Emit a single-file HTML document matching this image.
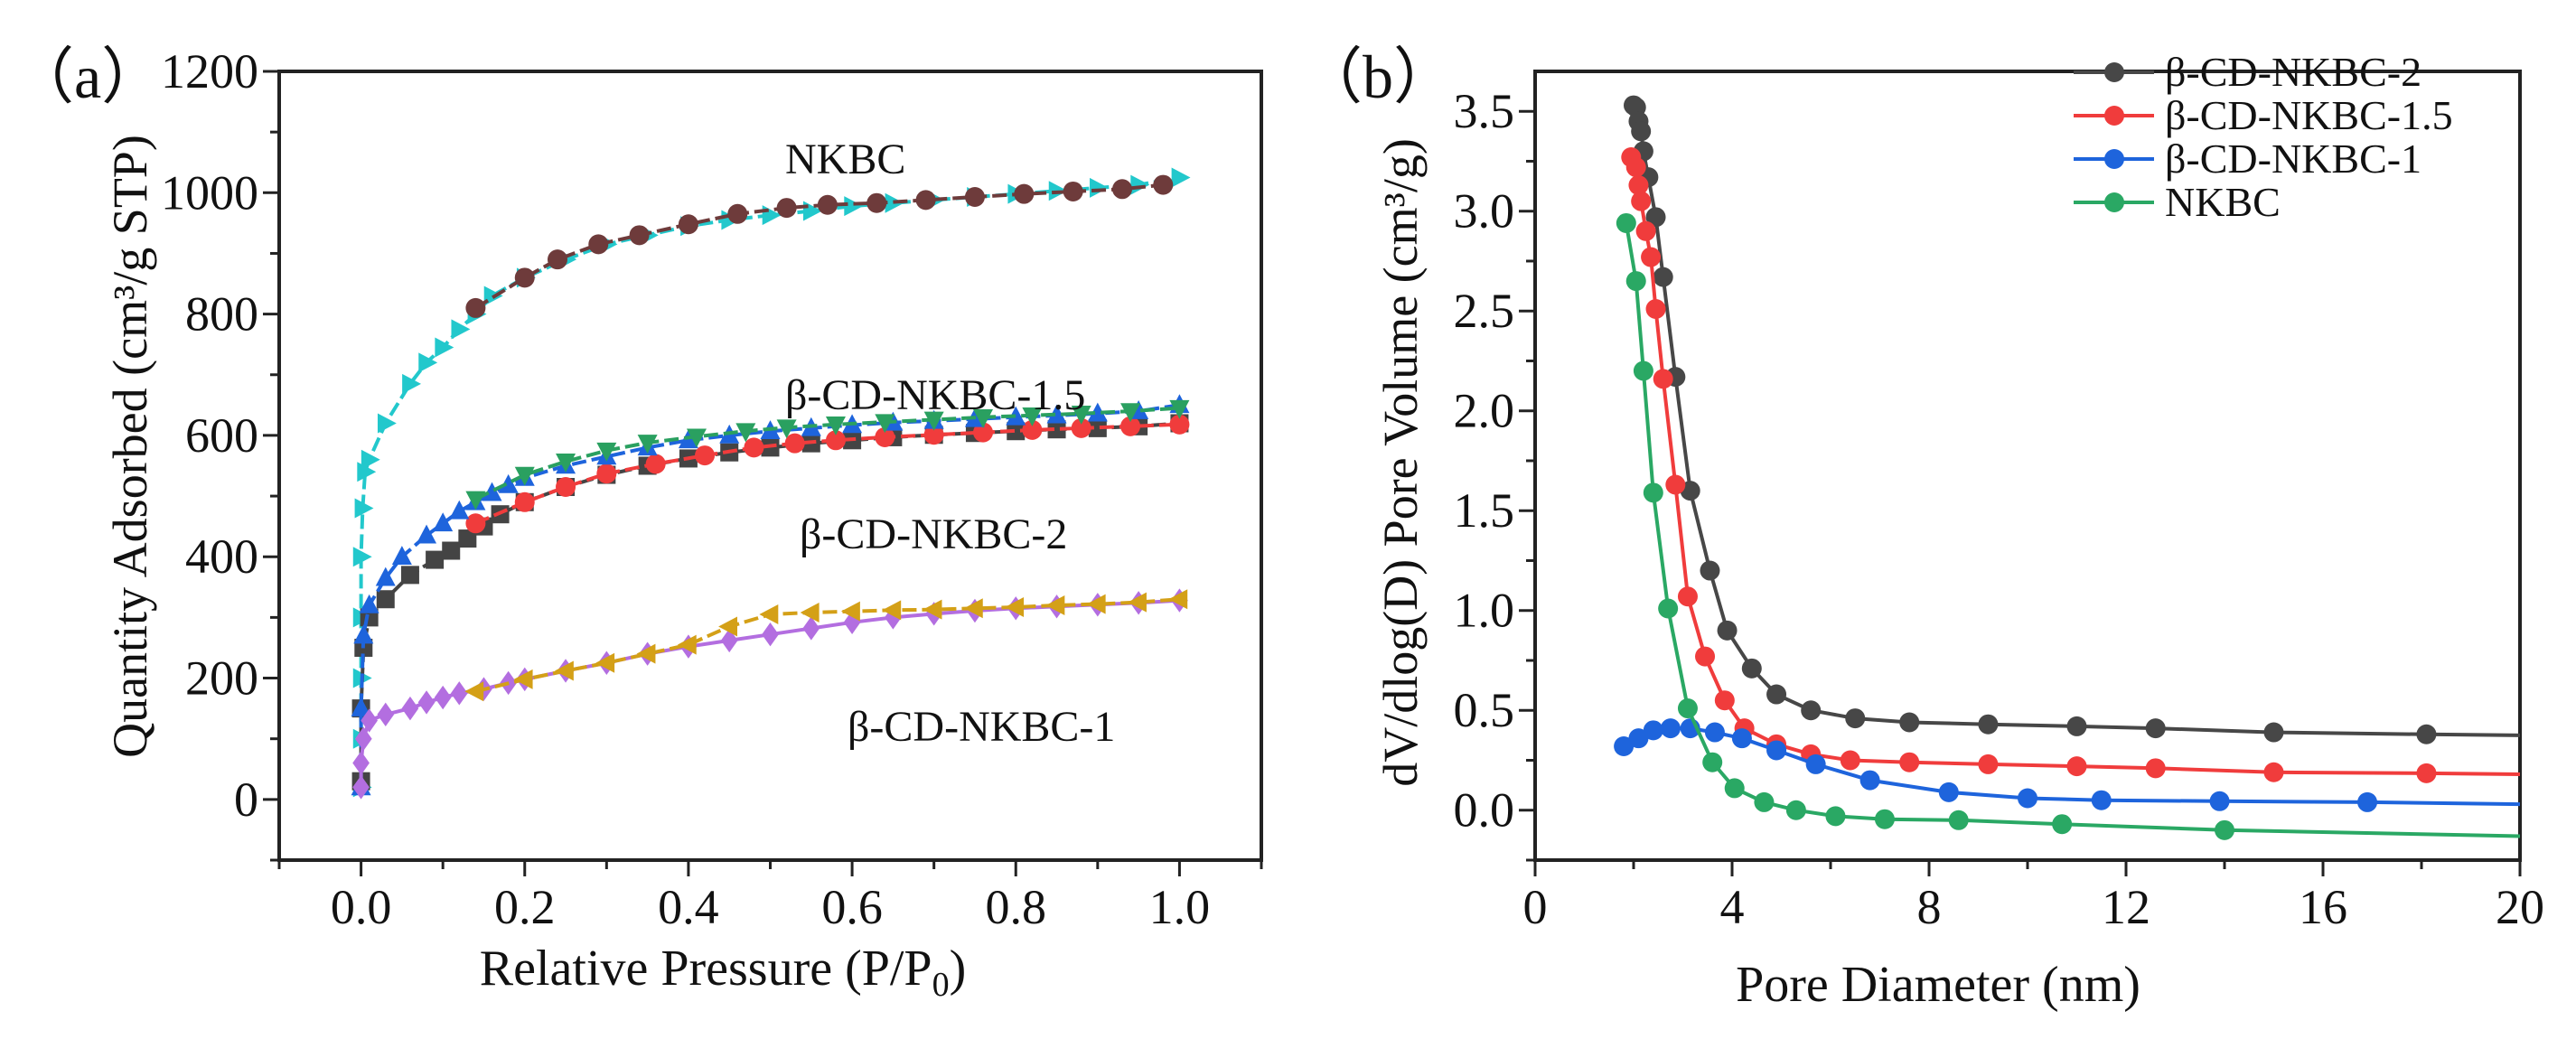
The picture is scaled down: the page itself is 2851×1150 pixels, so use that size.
<!DOCTYPE html>
<html><head><meta charset="utf-8"><style>
body{margin:0;background:#fff;}
svg{display:block;font-family:"Liberation Serif","Times New Roman",serif;}
text{font-family:"Liberation Serif","Times New Roman",serif;}
</style></head><body>
<svg id="fig" width="2851" height="1150" viewBox="0 0 2851 1150" xmlns="http://www.w3.org/2000/svg" font-family="Liberation Serif, serif">
<rect width="2851" height="1150" fill="#fff"/>
<g id="A"></g>
<g id="B"></g>
</svg>
<script>
// ---- Panel (a) data ----
const nkbcAdsX=[0,0,0,0,0,0.002,0.005,0.01,0.03,0.06,0.08,0.1,0.12,0.14,0.16,0.2,0.25,0.3,0.35,0.4,0.45,0.5,0.55,0.6,0.65,0.7,0.75,0.8,0.85,0.9,0.95,1.0];
const nkbcAdsY=[20,100,200,300,400,480,540,560,620,685,720,745,775,800,830,860,890,915,930,945,955,963,970,978,983,988,993,998,1003,1008,1013,1025];
const nkbcDesX=[0.14,0.2,0.24,0.29,0.34,0.4,0.46,0.52,0.57,0.63,0.69,0.75,0.81,0.87,0.93,0.98];
const nkbcDesY=[810,860,890,915,930,948,965,975,980,983,988,993,998,1002,1006,1013];
const cd2AdsX=[0,0,0.003,0.01,0.03,0.06,0.09,0.11,0.13,0.15,0.17,0.2,0.25,0.3,0.35,0.4,0.45,0.5,0.55,0.6,0.65,0.7,0.75,0.8,0.85,0.9,0.95,1.0];
const cd2AdsY=[30,150,250,300,330,370,395,410,430,450,470,490,515,535,550,562,572,580,587,592,597,601,604,607,610,612,615,620];
const cd2DesX=[0.14,0.2,0.25,0.3,0.36,0.42,0.48,0.53,0.58,0.64,0.7,0.76,0.82,0.88,0.94,1.0];
const cd2DesY=[455,490,515,537,553,567,580,587,592,597,601,605,609,612,615,618];
const cd15AdsX=[0,0,0.003,0.01,0.03,0.05,0.08,0.1,0.12,0.14,0.16,0.18,0.2,0.25,0.3,0.35,0.4,0.45,0.5,0.55,0.6,0.65,0.7,0.75,0.8,0.85,0.9,0.95,1.0];
const cd15AdsY=[20,150,270,320,365,400,435,455,475,490,505,518,530,550,565,580,592,600,607,612,617,621,624,627,630,633,636,640,650];
const cd15DesX=[0.14,0.2,0.25,0.3,0.35,0.41,0.47,0.52,0.58,0.64,0.7,0.76,0.82,0.88,0.94,1.0];
const cd15DesY=[495,535,557,575,588,598,607,613,618,622,626,630,633,636,640,645];
const cd1AdsX=[0,0,0.003,0.01,0.03,0.06,0.08,0.1,0.12,0.15,0.18,0.2,0.25,0.3,0.35,0.4,0.45,0.5,0.55,0.6,0.65,0.7,0.75,0.8,0.85,0.9,0.95,1.0];
const cd1AdsY=[20,60,100,130,140,150,160,168,175,182,192,198,212,225,240,252,262,272,282,292,300,306,311,315,318,321,324,328];
const cd1DesX=[0.14,0.2,0.25,0.3,0.35,0.4,0.45,0.5,0.55,0.6,0.65,0.7,0.75,0.8,0.85,0.9,0.95,1.0];
const cd1DesY=[178,198,212,225,240,255,285,305,308,310,312,313,315,317,320,322,325,330];
const aXTicks=[0,0.2,0.4,0.6,0.8,1.0];
const aXTickLabels=["0.0","0.2","0.4","0.6","0.8","1.0"];
const aYTicks=[0,200,400,600,800,1000,1200];
const aYTickLabels=["0","200","400","600","800","1000","1200"];
// ---- Panel (b) data ----
const bBlackX=[2.0,2.05,2.1,2.15,2.2,2.3,2.45,2.6,2.85,3.15,3.55,3.9,4.4,4.9,5.6,6.5,7.6,9.2,11.0,12.6,15.0,18.1,20];
const bBlackY=[3.53,3.52,3.45,3.40,3.3,3.17,2.97,2.67,2.17,1.6,1.2,0.9,0.71,0.58,0.5,0.46,0.44,0.43,0.42,0.41,0.39,0.38,0.375];
const bRedX=[1.95,2.05,2.1,2.15,2.25,2.35,2.45,2.6,2.85,3.1,3.45,3.85,4.25,4.9,5.6,6.4,7.6,9.2,11.0,12.6,15.0,18.1,20];
const bRedY=[3.27,3.22,3.13,3.05,2.9,2.77,2.51,2.16,1.63,1.07,0.77,0.55,0.41,0.33,0.28,0.25,0.24,0.23,0.22,0.21,0.19,0.185,0.18];
const bBlueX=[1.8,2.1,2.4,2.75,3.15,3.65,4.2,4.9,5.7,6.8,8.4,10.0,11.5,13.9,16.9,20];
const bBlueY=[0.32,0.36,0.4,0.41,0.41,0.39,0.36,0.3,0.23,0.15,0.09,0.06,0.05,0.045,0.04,0.03];
const bGreenX=[1.85,2.05,2.2,2.4,2.7,3.1,3.6,4.05,4.65,5.3,6.1,7.1,8.6,10.7,14.0,20];
const bGreenY=[2.94,2.65,2.2,1.59,1.01,0.51,0.24,0.11,0.04,0.0,-0.03,-0.045,-0.05,-0.07,-0.1,-0.13];
const bXTicks=[0,4,8,12,16,20];
const bXTickLabels=["0","4","8","12","16","20"];
const bYTicks=[0,0.5,1,1.5,2,2.5,3,3.5];
const bYTickLabels=["0.0","0.5","1.0","1.5","2.0","2.5","3.0","3.5"];

const NS="http://www.w3.org/2000/svg";
const FONT='"Liberation Serif","Times New Roman",serif';
function mk(parent,tag,attrs,text){const e=document.createElementNS(NS,tag);for(const k in attrs)e.setAttribute(k,attrs[k]);if(text!==undefined)e.textContent=text;parent.appendChild(e);return e;}

const ax=v=>309+(v+0.1)/1.2*(1396-309);
const ay=v=>952-(v+100)/1300*(952-79);
const bx=v=>1699+v/20*(2789-1699);
const by=v=>952-(v+0.25)/3.95*(952-79);

function marker(g,shape,x,y,r,color){
  let e;
  if(shape==='circle'){e=mk(g,'circle',{cx:x,cy:y,r:r,fill:color});}
  else if(shape==='square'){e=mk(g,'rect',{x:x-r,y:y-r,width:2*r,height:2*r,fill:color});}
  else{
    let p;
    if(shape==='up')p=[[x,y-r*1.1],[x+r,y+r*0.8],[x-r,y+r*0.8]];
    else if(shape==='down')p=[[x,y+r*1.1],[x+r,y-r*0.8],[x-r,y-r*0.8]];
    else if(shape==='right')p=[[x+r*1.1,y],[x-r*0.8,y-r],[x-r*0.8,y+r]];
    else if(shape==='left')p=[[x-r*1.1,y],[x+r*0.8,y-r],[x+r*0.8,y+r]];
    else p=[[x,y-r*1.2],[x+r*0.85,y],[x,y+r*1.2],[x-r*0.85,y]];
    e=mk(g,'polygon',{points:p.map(q=>q.join(',')).join(' '),fill:color});
  }
  
  
}
function series(parent,name,xs,ys,fx,fy,color,shape,r,dash,skipLastMarker){
  const g=mk(parent,'g',{});
  
  
  const d=xs.map((v,i)=>(i?'L':'M')+fx(v).toFixed(1)+','+fy(ys[i]).toFixed(1)).join(' ');
  const pa={d:d,fill:'none',stroke:color,'stroke-width':4,'stroke-linejoin':'round'};
  if(dash)pa['stroke-dasharray']=dash;
  const l=mk(g,'path',pa);
  
  
  const n=skipLastMarker?xs.length-1:xs.length;
  for(let i=0;i<n;i++)marker(g,shape,fx(xs[i]),fy(ys[i]),r,color);
}
function text(parent,name,x,y,str,size,anchor,extra){
  const t=mk(parent,'text',Object.assign({x:x,y:y,'font-size':size,'text-anchor':anchor||'start',fill:'#111','font-family':FONT},extra||{}),str);
  
  
  return t;
}

// ---------- Panel A ----------
const A=document.getElementById('A');
const fa=mk(A,'rect',{x:309,y:79,width:1087,height:873,fill:'none',stroke:'#222','stroke-width':4});

for(let v=-0.1;v<=1.11;v+=0.1){const big=Math.abs(Math.round(v*10)%2)===0;const t=mk(A,'line',{x1:ax(v),x2:ax(v),y1:952,y2:952+(big?18:10),stroke:'#222','stroke-width':3});}
for(let v=-100;v<=1200;v+=100){const big=v%200===0;const t=mk(A,'line',{x1:309,x2:309-(big?18:10),y1:ay(v),y2:ay(v),stroke:'#222','stroke-width':3});}
aXTicks.forEach((v,i)=>text(A,'x-tick-label',ax(v),1022,aXTickLabels[i],54,'middle'));
aYTicks.forEach((v,i)=>text(A,'y-tick-label',286,ay(v)+18,aYTickLabels[i],54,'end'));
(function(){
  const t=text(A,'x-axis-title',800,1090,'Relative Pressure  (P/P',56,'middle');
  const s=mk(t,'tspan',{'font-size':38,dy:12},'0');
  mk(t,'tspan',{dy:-12},')');
})();
text(A,'y-axis-title',0,0,'Quantity Adsorbed (cm³/g STP)',54,'middle',{transform:'translate(162,494) rotate(-90)'});
text(A,'panel-a-label',14,108,'（a）',68,'start',{'font-family':'"Liberation Serif","Noto Serif CJK SC",serif'});

series(A,'series-nkbc-adsorption',nkbcAdsX,nkbcAdsY,ax,ay,'#22c8cc','right',11,'16 6');
series(A,'series-nkbc-desorption',nkbcDesX,nkbcDesY,ax,ay,'#6e3b3b','circle',11,'16 6');
series(A,'series-cd2-adsorption',cd2AdsX,cd2AdsY,ax,ay,'#444','square',10,'16 6');
series(A,'series-cd2-desorption',cd2DesX,cd2DesY,ax,ay,'#f03c3c','circle',11,'16 6');
series(A,'series-cd15-adsorption',cd15AdsX,cd15AdsY,ax,ay,'#1e64dc','up',11,'16 6');
series(A,'series-cd15-desorption',cd15DesX,cd15DesY,ax,ay,'#2aa060','down',11,'16 6');
series(A,'series-cd1-adsorption',cd1AdsX,cd1AdsY,ax,ay,'#b36ee0','diamond',11,null);
series(A,'series-cd1-desorption',cd1DesX,cd1DesY,ax,ay,'#d4a017','left',11,'16 6');

text(A,'label-nkbc',869,192,'NKBC',48,'start');
text(A,'label-cd15',869,453,'β-CD-NKBC-1.5',48,'start');
text(A,'label-cd2',885,607,'β-CD-NKBC-2',48,'start');
text(A,'label-cd1',938,820,'β-CD-NKBC-1',48,'start');

// ---------- Panel B ----------
const B=document.getElementById('B');
const fb=mk(B,'rect',{x:1699,y:79,width:1090,height:873,fill:'none',stroke:'#222','stroke-width':4});

for(let v=0;v<=20;v+=2){const big=v%4===0;const t=mk(B,'line',{x1:bx(v),x2:bx(v),y1:952,y2:952+(big?18:10),stroke:'#222','stroke-width':3});}
for(let v=-0.25;v<=3.51;v+=0.25){const big=Math.abs(Math.round(v*4)%2)===0;const t=mk(B,'line',{x1:1699,x2:1699-(big?18:10),y1:by(v),y2:by(v),stroke:'#222','stroke-width':3});}
bXTicks.forEach((v,i)=>text(B,'x-tick-label',bx(v),1022,bXTickLabels[i],54,'middle'));
bYTicks.forEach((v,i)=>text(B,'y-tick-label',1676,by(v)+18,bYTickLabels[i],54,'end'));
text(B,'x-axis-title',2145,1108,'Pore Diameter (nm)',56,'middle');
text(B,'y-axis-title',0,0,'dV/dlog(D) Pore Volume (cm³/g)',54,'middle',{transform:'translate(1568,512) rotate(-90)'});
text(B,'panel-b-label',1440,108,'（b）',68,'start',{'font-family':'"Liberation Serif","Noto Serif CJK SC",serif'});

series(B,'series-b-cd2',bBlackX,bBlackY,bx,by,'#474747','circle',11,null,true);
series(B,'series-b-cd15',bRedX,bRedY,bx,by,'#f03c3c','circle',11,null,true);
series(B,'series-b-cd1',bBlueX,bBlueY,bx,by,'#1e64dc','circle',11,null,true);
series(B,'series-b-nkbc',bGreenX,bGreenY,bx,by,'#2aa864','circle',11,null,true);

const legNames=['β-CD-NKBC-2','β-CD-NKBC-1.5','β-CD-NKBC-1','NKBC'];
const legColors=['#474747','#f03c3c','#1e64dc','#2aa864'];
const legG=mk(B,'g',{});


legNames.forEach((n,i)=>{
  const y=80+i*48;
  const g=mk(legG,'g',{});
  
  
  mk(g,'line',{x1:2295,x2:2384,y1:y,y2:y,stroke:legColors[i],'stroke-width':4});
  mk(g,'circle',{cx:2340,cy:y,r:11,fill:legColors[i]});
  mk(g,'text',{x:2396,y:y+15,'font-size':46,fill:'#111','font-family':FONT},n);
});
</script>
</body></html>
